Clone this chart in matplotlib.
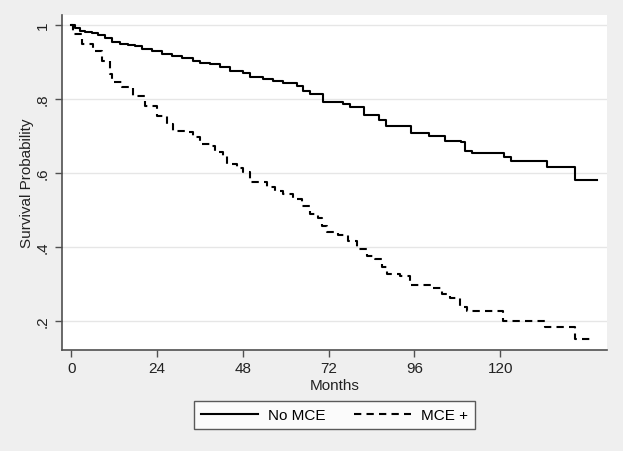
# Kaplan-Meier survival curves, No MCE vs MCE +

import matplotlib.pyplot as plt

# step times (months) and survival probability after each step
no_mce_months = [0, 1.0, 2.4, 3.8, 5.7, 7.6, 9.4, 11.3, 13.6, 15.9, 17.8, 19.7, 22.5, 25.3,
                 28.1, 30.9, 34.1, 36, 38.8, 41.6, 44.4, 48, 50, 53.6, 56.4, 59.2, 63.1,
                 64.8, 66.8, 70.5, 76, 78, 82, 86, 88, 95, 100, 104.5, 109, 110, 112,
                 121, 123, 133, 141, 147]
no_mce_surv   = [1.0, 0.991, 0.985, 0.980, 0.978, 0.973, 0.964, 0.953, 0.949, 0.946,
                 0.942, 0.935, 0.929, 0.923, 0.915, 0.911, 0.904, 0.897, 0.895, 0.886,
                 0.875, 0.870, 0.859, 0.854, 0.848, 0.842, 0.836, 0.822, 0.814, 0.791,
                 0.786, 0.778, 0.757, 0.743, 0.727, 0.708, 0.701, 0.687, 0.683, 0.660,
                 0.653, 0.642, 0.632, 0.615, 0.581, 0.581]

mce_months = [0, 0.5, 2.9, 6, 8.5, 10.8, 11.3, 14.1, 17.3, 20.6, 23.9, 26.7, 28.5, 31.8,
              34, 36, 38.8, 40.2, 42.4, 43.5, 46.3, 48, 50, 54.7, 57, 59.2, 62, 64.5,
              66.8, 69, 70, 71.5, 74.6, 77.4, 80, 82.7, 85, 87, 88.3, 92, 94.7, 101,
              103.7, 106, 108.7, 110.7, 120.8, 132.5, 141, 146]
mce_surv   = [1.0, 0.976, 0.949, 0.931, 0.904, 0.868, 0.845, 0.832, 0.809, 0.782, 0.755,
              0.732, 0.714, 0.710, 0.696, 0.678, 0.674, 0.656, 0.647, 0.624, 0.614,
              0.603, 0.575, 0.562, 0.552, 0.543, 0.530, 0.512, 0.489, 0.478, 0.458,
              0.440, 0.432, 0.415, 0.395, 0.376, 0.368, 0.345, 0.327, 0.322, 0.298,
              0.289, 0.273, 0.261, 0.238, 0.228, 0.199, 0.183, 0.151, 0.151]

x_ticks       = [0, 24, 48, 72, 96, 120]
y_ticks       = [0.2, 0.4, 0.6, 0.8, 1.0]
y_tick_labels = ['.2', '.4', '.6', '.8', '1']
legend_labels = ['No MCE', 'MCE +']

bg_color   = '#efefef'
axis_color = '#505050'
grid_color = '#e6e6e6'
text_color = '#222222'


def draw():
    fig = plt.figure(figsize=(6.23, 4.52), dpi=100, facecolor=bg_color)
    ax = fig.add_axes([0.0995, 0.2235, 0.8745, 0.741])
    ax.set_facecolor('white')

    l1, = ax.step(no_mce_months, no_mce_surv, where='post', color='black', lw=1.5)
    l2, = ax.step(mce_months, mce_surv, where='post', color='black', lw=1.5,
                  linestyle=(0, (3.5, 2.5)))

    ax.set_xlim(-2.6, 149.8)
    ax.set_ylim(0.1216, 1.027)
    ax.set_xticks(x_ticks)
    ax.set_yticks(y_ticks)
    ax.set_yticklabels(y_tick_labels, rotation=90, va='center')

    ax.grid(axis='y', color=grid_color, lw=1)
    ax.set_axisbelow(True)
    for side in ['top', 'right']:
        ax.spines[side].set_visible(False)
    for side in ['left', 'bottom']:
        ax.spines[side].set_color(axis_color)
        ax.spines[side].set_linewidth(1.2)
    ax.tick_params(axis='both', colors=axis_color, labelcolor=text_color, length=5,
                   width=1, labelsize=11)
    ax.tick_params(axis='x', pad=3)
    ax.tick_params(axis='y', pad=4)

    ax.set_xlabel('Months', fontsize=11, color=text_color, labelpad=2)
    ax.set_ylabel('Survival Probability', fontsize=11, color=text_color, labelpad=1)

    leg = fig.legend([l1, l2], legend_labels, loc='center', ncol=2,
                     bbox_to_anchor=(334.5 / 623, 1 - 416 / 452), fontsize=11,
                     frameon=True, fancybox=False, handlelength=3.7, handletextpad=0.65,
                     columnspacing=1.9, borderpad=0.45)
    leg.get_frame().set_edgecolor('#333333')
    leg.get_frame().set_linewidth(1)

    fig.savefig('out.png', dpi=100, facecolor=bg_color)


if __name__ == '__main__':
    plt.rcParams['font.family'] = ['Liberation Sans', 'DejaVu Sans']
    draw()
